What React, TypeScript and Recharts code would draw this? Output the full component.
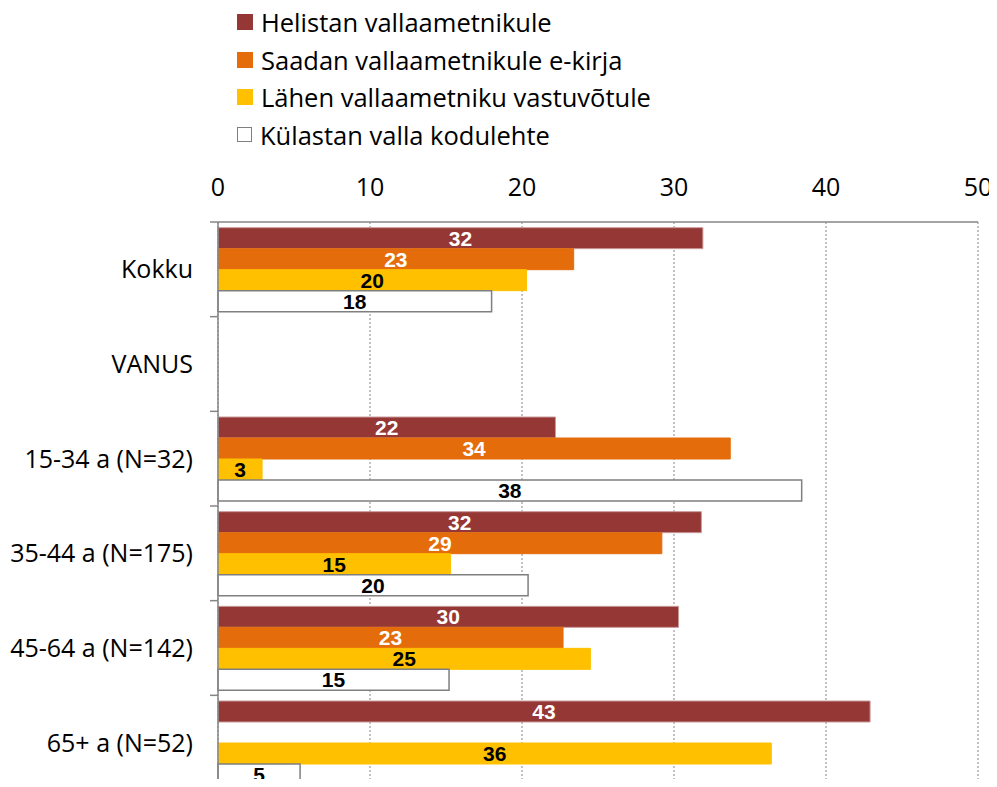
import React from 'react';
import { BarChart, Bar, XAxis, YAxis, CartesianGrid, LabelList } from 'recharts';

const categories = ['Kokku', 'VANUS', '15-34 a (N=32)', '35-44 a (N=175)', '45-64 a (N=142)', '65+ a (N=52)'];
const seriesNames = ['Helistan vallaametnikule', 'Saadan vallaametnikule e-kirja', 'Lähen vallaametniku vastuvõtule', 'Külastan valla kodulehte'];
const helistan = [31.9, null, 22.2, 31.8, 30.3, 42.9];
const saadan = [23.4, null, 33.7, 29.2, 22.7, null];
const lahen = [20.3, null, 2.9, 15.3, 24.5, 36.4];
const kulastan = [18.0, null, 38.4, 20.4, 15.2, 5.4];
const xTicks = [0, 10, 20, 30, 40, 50];

const W = 997;
const H = 795;
const TOP = 222;
const BOTTOM_M = 5;
const BAND = (H - TOP - BOTTOM_M) / categories.length;

const FONT = '"Open Sans", Lato, sans-serif';
const AXIS_GRAY = '#868686';

const styles = [
  { key: 'helistan', fill: '#953735', stroke: '#c89a99', label: '#fff' },
  { key: 'saadan', fill: '#E46C0A', stroke: '#E46C0A', label: '#fff' },
  { key: 'lahen', fill: '#FFC000', stroke: '#FFC000', label: '#000' },
  { key: 'kulastan', fill: '#ffffff', stroke: '#7f7f7f', label: '#000' },
];

const data = categories.map((name, i) => ({
  name,
  helistan: helistan[i],
  saadan: saadan[i],
  lahen: lahen[i],
  kulastan: kulastan[i],
}));

// y-axis: label in the middle, tick mark on the band border (excel style)
const CatTick = (props: any) => {
  const { x, y, payload, index } = props;
  const top = y - BAND / 2;
  return (
    <g>
      <line x1={x + 17} x2={x + 25} y1={top} y2={top} stroke={AXIS_GRAY} strokeWidth={1.5} />
      {index === categories.length - 1 && (
        <line x1={x + 17} x2={x + 25} y1={top + BAND} y2={top + BAND} stroke={AXIS_GRAY} strokeWidth={1.5} />
      )}
      <text x={x} y={y} dy="0.36em" textAnchor="end" fill="#000" fontFamily={FONT} fontSize={25}>
        {payload.value}
      </text>
    </g>
  );
};

const makeLabel = (color: string) => (props: any) => {
  const { x, y, width, height, value } = props;
  if (value == null) return null;
  return (
    <text
      x={x + width / 2}
      y={y + height / 2}
      dy="0.36em"
      textAnchor="middle"
      fill={color}
      fontFamily='"Liberation Sans", Arial, sans-serif'
      fontWeight="bold"
      fontSize={21}
    >
      {Math.round(value)}
    </text>
  );
};

export default function App() {
  return (
    <div style={{ margin: -8, width: W, height: 787, overflow: 'hidden', position: 'relative', background: '#fff' }}>
      <div style={{ position: 'absolute', left: 237, top: 3, fontFamily: FONT, fontSize: 25.5, color: '#000' }}>
        {seriesNames.map((n, i) => (
          <div key={n} style={{ display: 'flex', alignItems: 'center', height: 37.7 }}>
            <span
              style={{
                display: 'inline-block',
                width: i === 3 ? 13 : 16,
                height: i === 3 ? 13 : 16,
                background: styles[i].fill,
                border: i === 3 ? `1.5px solid ${styles[i].stroke}` : 'none',
                marginRight: 8,
              }}
            />
            <span>{n}</span>
          </div>
        ))}
      </div>
      <BarChart
        width={W}
        height={H}
        data={data}
        layout="vertical"
        margin={{ top: TOP - 40, right: 19, bottom: BOTTOM_M, left: 0 }}
        barCategoryGap="6%"
        barGap={0}
        style={{ overflow: 'visible' }}
      >
        <CartesianGrid horizontal={false} stroke={AXIS_GRAY} strokeDasharray="2 2" />
        <XAxis
          type="number"
          orientation="top"
          domain={[0, 50]}
          ticks={xTicks}
          height={40}
          tickLine={false}
          axisLine={{ stroke: AXIS_GRAY, strokeWidth: 1.5 }}
          tick={{ fill: '#000', fontFamily: FONT, fontSize: 25 }}
          tickMargin={20}
        />
        <YAxis
          type="category"
          dataKey="name"
          width={218}
          tickLine={false}
          axisLine={{ stroke: AXIS_GRAY, strokeWidth: 1.5 }}
          tick={<CatTick />}
          tickMargin={19}
          interval={0}
        />
        {styles.map((s, i) => (
          <Bar
            key={s.key}
            dataKey={s.key}
            name={seriesNames[i]}
            fill={s.fill}
            stroke={s.stroke}
            strokeWidth={i === 3 ? 1.5 : 1}
            isAnimationActive={false}
          >
            <LabelList dataKey={s.key} content={makeLabel(s.label)} />
          </Bar>
        ))}
      </BarChart>
    </div>
  );
}
